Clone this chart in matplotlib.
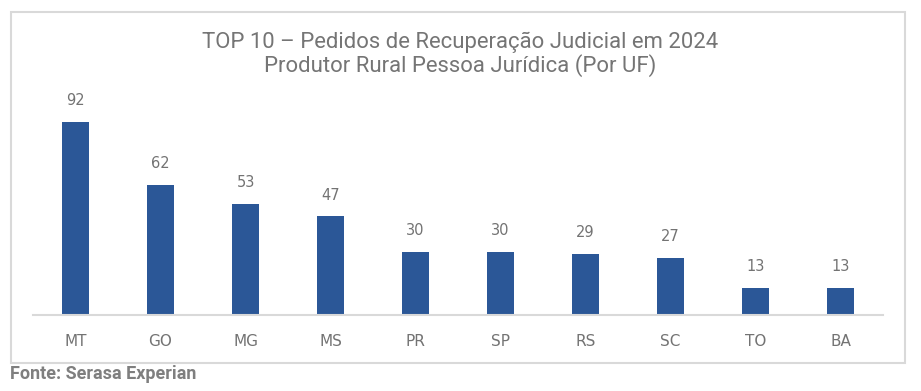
import matplotlib
matplotlib.use("Agg")
import matplotlib.pyplot as plt
from matplotlib.patches import Rectangle

categories = ["MT", "GO", "MG", "MS", "PR", "SP", "RS", "SC", "TO", "BA"]
values = [92, 62, 53, 47, 30, 30, 29, 27, 13, 13]
title_lines = ["TOP 10 – Pedidos de Recuperação Judicial em 2024",
               "Produtor Rural Pessoa Jurídica (Por UF)"]
source = "Fonte: Serasa Experian"

W, H = 921, 391
fig = plt.figure(figsize=(W / 100, H / 100), dpi=100)
fig.patch.set_facecolor("white")

# outer chart border
fig.add_artist(Rectangle((11 / W, 1 - 363 / H), (905 - 11) / W, (363 - 12) / H,
                         transform=fig.transFigure, fill=False,
                         edgecolor="#d9d9d9", linewidth=1.5))

ax = fig.add_axes([33 / W, 1 - 315 / H, (883 - 33) / W, (315 - 100) / H])
x = range(len(categories))
ax.bar(x, values, width=0.31, color="#2b5797")
ax.set_xlim(-0.5, len(categories) - 0.5)
ax.set_ylim(0, 102.5)
for s in ["top", "right", "left"]:
    ax.spines[s].set_visible(False)
ax.spines["bottom"].set_color("#d9d9d9")
ax.spines["bottom"].set_linewidth(1.5)
ax.set_yticks([])
ax.set_xticks(list(x))
ax.set_xticklabels(categories, fontsize=11, color="#737373", family="DejaVu Sans")
ax.tick_params(axis="x", length=0, pad=14)

for xi, v in zip(x, values):
    ax.annotate(str(v), (xi, v), xytext=(0, 10), textcoords="offset points",
                ha="center", va="bottom", fontsize=10.5, color="#737373")

fig.text(460 / W, 1 - 42 / H, title_lines[0], ha="center", va="center",
         fontsize=15.9, color="#757575", family="Roboto")
fig.text(460 / W, 1 - 66 / H, title_lines[1], ha="center", va="center",
         fontsize=15.9, color="#757575", family="Roboto")
fig.text(10 / W, 1 - 374 / H, source, ha="left", va="center",
         fontsize=13, color="#7f7f7f", family="Roboto", fontweight="bold")

fig.savefig("out.png", dpi=100, facecolor="white")
